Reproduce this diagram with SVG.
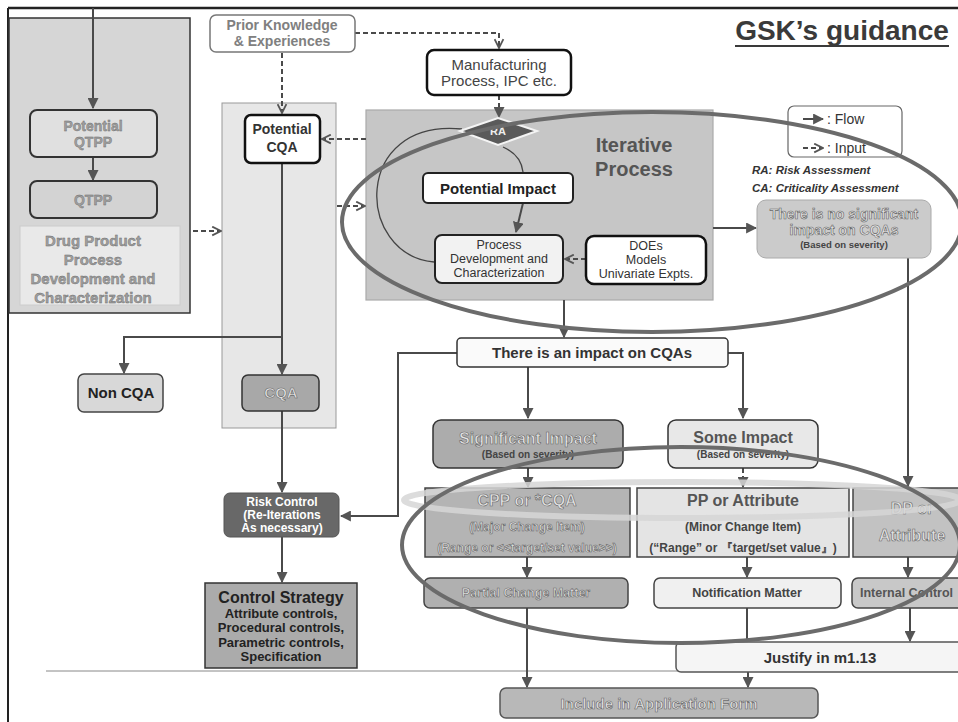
<svg xmlns="http://www.w3.org/2000/svg" width="958" height="722" viewBox="0 0 958 722">
<defs>
<style>
text{font-family:"Liberation Sans",Arial,sans-serif;text-anchor:middle;dominant-baseline:central}
.b{font-weight:bold}
.emb{fill:#e4e4e4;stroke:#666;stroke-width:0.6;font-weight:bold}
.embl{fill:#a0a0a0;stroke:#6a6a6a;stroke-width:0.4;font-weight:bold}
.con{fill:none;stroke:#4a4a4a;stroke-width:2}
.dash{fill:none;stroke:#4a4a4a;stroke-width:2;stroke-dasharray:5 3}
.thin{fill:none;stroke:#444;stroke-width:1.3}
</style>
<marker id="ah" viewBox="0 0 10 10" refX="9" refY="5" markerWidth="11" markerHeight="11" markerUnits="userSpaceOnUse" orient="auto"><path d="M0,0 L10,5 L0,10 z" fill="#555"/></marker>
<marker id="ch" viewBox="0 0 10 10" refX="9" refY="5" markerWidth="11" markerHeight="11" markerUnits="userSpaceOnUse" orient="auto"><path d="M1,1 L9,5 L1,9" fill="none" stroke="#555" stroke-width="1.6"/></marker>
</defs>
<rect width="958" height="722" fill="#fff"/>
<line x1="8" y1="8" x2="958" y2="8" stroke="#222" stroke-width="2.5"/>
<line x1="8" y1="8" x2="8" y2="722" stroke="#222" stroke-width="2"/>
<line x1="46" y1="671" x2="958" y2="671" stroke="#888" stroke-width="1"/>

<g id="title"><text x="842" y="30" font-size="28" class="b" fill="#3a3a3a">GSK’s guidance</text><line x1="735" y1="46" x2="949" y2="46" stroke="#3a3a3a" stroke-width="2"/></g>

<g id="panel-drug"><rect x="9" y="18" width="181" height="295" fill="#d6d6d6" stroke="#333" stroke-width="1.5"/></g>
<g id="panel-cqa"><rect x="222" y="103" width="114" height="325" fill="#e7e7e7" stroke="#999" stroke-width="1"/></g>
<g id="panel-iterative"><rect x="366" y="110" width="347" height="190" fill="#c6c6c6" stroke="#aaa" stroke-width="1.2"/>
<text x="634" y="145" font-size="20" class="b" fill="#555">Iterative</text><text x="634" y="169" font-size="20" class="b" fill="#555">Process</text></g>

<g id="connectors">
<path class="con" d="M93 8 V108" marker-end="url(#ah)"/>
<path class="con" d="M93 157 V180" marker-end="url(#ah)"/>
<path class="dash" d="M193 231 H221" marker-end="url(#ch)"/>
<path class="dash" d="M282 53 V113" marker-end="url(#ch)"/>
<path class="dash" d="M355 33 H499 V48" marker-end="url(#ch)"/>
<path class="dash" d="M499 95 V117" marker-end="url(#ah)"/>
<path class="dash" d="M366 139 H322" marker-end="url(#ch)"/>
<path class="dash" d="M337 206 H365" marker-end="url(#ch)"/>
<path class="thin" d="M434 262 C 355 255 352 118 462 129"/>
<path class="thin" d="M503 147 Q 521 155 523 172"/>
<path class="con" d="M523 203 L516 232" marker-end="url(#ah)"/>
<path class="dash" d="M586 259 H565" marker-end="url(#ch)"/>
<path class="con" d="M713 228 H756" marker-end="url(#ah)"/>
<path class="con" d="M908 258 V486" marker-end="url(#ah)"/>
<path class="con" d="M564 300 V337" marker-end="url(#ah)"/>
<path class="con" d="M457 353 H398 V516 H341" marker-end="url(#ah)"/>
<path class="con" d="M528 367 V418" marker-end="url(#ah)"/>
<path class="con" d="M728 353 H743 V418" marker-end="url(#ah)"/>
<path class="con" d="M528 468 V487" marker-end="url(#ah)"/>
<path class="dash" d="M743 468 V487" marker-end="url(#ah)"/>
<path class="con" d="M527 557 V577" marker-end="url(#ah)"/>
<path class="con" d="M747 557 V577" marker-end="url(#ah)"/>
<path class="con" d="M908 557 V577" marker-end="url(#ah)"/>
<path class="con" d="M527 608 V687" marker-end="url(#ah)"/>
<path class="con" d="M747 608 V642"/>
<path class="con" d="M910 608 V641" marker-end="url(#ah)"/>
<path class="con" d="M748 672 V687" marker-end="url(#ah)"/>
<path class="con" d="M282 163 V374" marker-end="url(#ah)"/>
<path class="con" d="M282 337 H124 V373" marker-end="url(#ah)"/>
<path class="con" d="M282 411 V492" marker-end="url(#ah)"/>
<path class="con" d="M282 537 V582" marker-end="url(#ah)"/>
</g>

<g id="potential-qtpp"><rect x="30" y="110" width="127" height="47" rx="7" fill="#e0e0e0" stroke="#333" stroke-width="2"/>
<text x="93" y="126" font-size="14" class="embl">Potential</text><text x="93" y="142" font-size="14" class="embl">QTPP</text></g>
<g id="qtpp"><rect x="30" y="181" width="127" height="37" rx="7" fill="#d3d3d3" stroke="#333" stroke-width="2"/>
<text x="93" y="200" font-size="14" class="embl">QTPP</text></g>
<g id="drug-product"><rect x="20" y="226" width="160" height="79" fill="#e9e9e9" stroke="#ccc"/>
<text x="93" y="240" font-size="15" class="embl">Drug Product</text><text x="93" y="259" font-size="15" class="embl">Process</text><text x="93" y="278" font-size="15" class="embl">Development and</text><text x="93" y="297" font-size="15" class="embl">Characterization</text></g>

<g id="prior-knowledge"><rect x="210" y="15" width="145" height="37" rx="6" fill="#fff" stroke="#777" stroke-width="1.5"/>
<text x="282" y="25" font-size="14" fill="#808080" class="b">Prior Knowledge</text><text x="282" y="41" font-size="14" fill="#808080" class="b">&amp; Experiences</text></g>
<g id="potential-cqa"><rect x="245" y="115" width="75" height="48" rx="6" fill="#fff" stroke="#111" stroke-width="2.5"/>
<text x="282" y="129" font-size="14" class="b" fill="#333">Potential</text><text x="282" y="147" font-size="14" class="b" fill="#333">CQA</text></g>
<g id="manufacturing"><rect x="427" y="50" width="144" height="45" rx="7" fill="#fff" stroke="#111" stroke-width="2.5"/>
<text x="499" y="64" font-size="15" fill="#444">Manufacturing</text><text x="499" y="80" font-size="15" fill="#444">Process, IPC etc.</text></g>
<g id="ra-diamond"><polygon points="460,131 498,118 537,131 498,145" fill="#5a5a5a" stroke="#f4f4f4" stroke-width="2"/>
<text x="498" y="131" font-size="11" class="b" fill="#eee">RA</text></g>
<g id="potential-impact"><rect x="423" y="173" width="150" height="30" rx="5" fill="#fff" stroke="#222" stroke-width="2"/>
<text x="498" y="188" font-size="15" class="b" fill="#222">Potential Impact</text></g>
<g id="process-dev"><rect x="435" y="235" width="128" height="48" rx="7" fill="#f2f2f2" stroke="#222" stroke-width="2"/>
<text x="499" y="245" font-size="12.5" fill="#333">Process</text><text x="499" y="259" font-size="12.5" fill="#333">Development and</text><text x="499" y="273" font-size="12.5" fill="#333">Characterization</text></g>
<g id="does"><rect x="586" y="236" width="120" height="48" rx="8" fill="#fff" stroke="#111" stroke-width="2.5"/>
<text x="646" y="246" font-size="12.5" fill="#333">DOEs</text><text x="646" y="260" font-size="12.5" fill="#333">Models</text><text x="646" y="274" font-size="12.5" fill="#333">Univariate Expts.</text></g>

<g id="legend"><rect x="788" y="106" width="114" height="51" rx="6" fill="#fff" stroke="#666" stroke-width="1.2"/>
<path class="con" d="M803 119 H823" marker-end="url(#ah)"/><path class="dash" d="M803 148 H823" marker-end="url(#ch)"/>
<text x="827" y="119" font-size="14" fill="#333" style="text-anchor:start">: Flow</text><text x="827" y="148" font-size="14" fill="#333" style="text-anchor:start">: Input</text>
<text x="752" y="170" font-size="11.5" class="b" font-style="italic" fill="#333" style="text-anchor:start">RA: Risk Assessment</text>
<text x="752" y="188" font-size="11.5" class="b" font-style="italic" fill="#333" style="text-anchor:start">CA: Criticality Assessment</text></g>

<g id="no-significant"><rect x="757" y="200" width="174" height="58" rx="9" fill="#cbcbcb" stroke="#aaa"/>
<text x="844" y="214" font-size="14" class="emb">There is no significant</text><text x="844" y="230" font-size="14" class="emb">impact on CQAs</text><text x="844" y="244" font-size="9.5" class="b" fill="#444">(Based on severity)</text></g>

<g id="impact-on-cqas"><rect x="457" y="338" width="271" height="29" rx="4" fill="#fafafa" stroke="#333" stroke-width="1.5"/>
<text x="592" y="352" font-size="15" class="b" fill="#333">There is an impact on CQAs</text></g>

<g id="non-cqa"><rect x="78" y="374" width="85" height="38" rx="6" fill="#d8d8d8" stroke="#444" stroke-width="1.5"/>
<text x="121" y="392" font-size="15" class="b" fill="#222">Non CQA</text></g>
<g id="cqa"><rect x="242" y="375" width="77" height="36" rx="6" fill="#a8a8a8" stroke="#333" stroke-width="1.5"/>
<text x="281" y="392" font-size="15" class="emb">CQA</text></g>
<g id="risk-control"><rect x="224" y="493" width="115" height="44" rx="6" fill="#686868" stroke="#555"/>
<text x="282" y="502" font-size="12" class="b" fill="#fff">Risk Control</text><text x="282" y="515" font-size="12" class="b" fill="#fff">(Re-Iterations</text><text x="282" y="528" font-size="12" class="b" fill="#fff">As necessary)</text></g>
<g id="control-strategy"><rect x="205" y="583" width="152" height="85" fill="#ababab" stroke="#333" stroke-width="1.5"/>
<text x="281" y="597" font-size="16" class="b" fill="#222">Control Strategy</text><text x="281" y="613" font-size="13" class="b" fill="#222">Attribute controls,</text><text x="281" y="627" font-size="13" class="b" fill="#222">Procedural controls,</text><text x="281" y="642" font-size="13" class="b" fill="#222">Parametric controls,</text><text x="281" y="656" font-size="13" class="b" fill="#222">Specification</text></g>

<g id="significant-impact"><rect x="433" y="420" width="190" height="48" rx="8" fill="#acacac" stroke="#333" stroke-width="1.5"/>
<text x="528" y="438" font-size="16" class="emb">Significant Impact</text><text x="528" y="454" font-size="10" class="b" fill="#444">(Based on severity)</text></g>
<g id="some-impact"><rect x="668" y="420" width="150" height="48" rx="8" fill="#e8e8e8" stroke="#333" stroke-width="1.5"/>
<text x="743" y="437" font-size="16" class="b" fill="#555">Some Impact</text><text x="743" y="454" font-size="10" class="b" fill="#444">(Based on severity)</text></g>

<g id="cpp"><rect x="425" y="488" width="205" height="69" fill="#b4b4b4" stroke="#444" stroke-width="1.5"/>
<text x="527" y="500" font-size="16" class="emb">CPP or *CQA</text><text x="527" y="527" font-size="12" class="emb">(Major Change Item)</text><text x="527" y="548" font-size="12" class="emb">(Range or &lt;&lt;target/set value&gt;&gt;)</text></g>
<g id="pp"><rect x="637" y="488" width="212" height="69" fill="#e4e4e4" stroke="#444" stroke-width="1.5"/>
<text x="743" y="500" font-size="16" class="b" fill="#555">PP or Attribute</text><text x="743" y="527" font-size="12" class="b" fill="#444">(Minor Change Item)</text><text x="743" y="548" font-size="12" class="b" fill="#444" font-family="'Liberation Sans','Noto Sans CJK JP',sans-serif">(“Range” or 『target/set value』)</text></g>
<g id="dp"><rect x="853" y="488" width="115" height="69" fill="#c2c2c2" stroke="#444" stroke-width="1.5"/>
<text x="912" y="508" font-size="16" class="emb">DP or</text><text x="912" y="535" font-size="16" class="emb">Attribute</text></g>

<g id="partial-change"><rect x="424" y="578" width="204" height="30" rx="6" fill="#b0b0b0" stroke="#444" stroke-width="1.5"/>
<text x="526" y="593" font-size="12.5" class="emb">Partial Change Matter</text></g>
<g id="notification"><rect x="654" y="578" width="187" height="30" rx="6" fill="#f0f0f0" stroke="#444" stroke-width="1.5"/>
<text x="747" y="593" font-size="12.5" class="b" fill="#444">Notification Matter</text></g>
<g id="internal-control"><rect x="852" y="578" width="120" height="30" rx="6" fill="#c8c8c8" stroke="#444" stroke-width="1.5"/>
<text x="860" y="593" font-size="12.5" class="b" fill="#555" style="text-anchor:start">Internal Control</text></g>
<g id="justify"><rect x="676" y="642" width="290" height="30" rx="5" fill="#f5f5f5" stroke="#555" stroke-width="1.5"/>
<text x="820" y="657" font-size="15" class="b" fill="#333">Justify in m1.13</text></g>
<g id="include"><rect x="500" y="688" width="318" height="30" rx="6" fill="#b8b8b8" stroke="#555" stroke-width="1.5"/>
<text x="659" y="703" font-size="15" class="emb">Include in Application Form</text></g>

<g id="highlight-ellipses">
<ellipse cx="682" cy="500" rx="278" ry="18" fill="none" stroke="#d6d6d6" stroke-width="6" opacity="0.85"/>
<ellipse cx="652" cy="222" rx="310" ry="110" fill="none" stroke="#6b6b6b" stroke-width="4"/>
<ellipse cx="681" cy="545" rx="279" ry="98" fill="none" stroke="#6b6b6b" stroke-width="4"/>
</g>
</svg>
